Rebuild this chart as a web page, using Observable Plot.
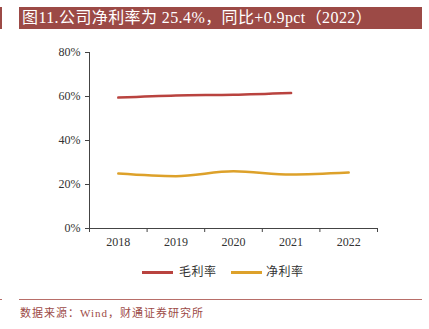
<!DOCTYPE html>
<html>
<head>
<meta charset="utf-8">
<script src="https://cdn.jsdelivr.net/npm/d3@7"></script>
<script src="https://cdn.jsdelivr.net/npm/@observablehq/plot@0.6"></script>
<style>
  html, body { margin: 0; padding: 0; background: #fff; }
  #root { position: relative; width: 429px; height: 329px; overflow: hidden; font-family: "Liberation Serif", "Noto Sans CJK SC", serif; }
  #leftmark { position: absolute; left: 0; top: 7px; width: 2px; height: 22px; background: #9C4A46; }
  #title { position: absolute; left: 19px; top: 7px; width: 403px; height: 22px; background: #9C4A46; color: #fff; font-size: 16px; line-height: 22px; padding-left: 3px; box-sizing: border-box; white-space: nowrap; letter-spacing: 0.4px; }
  #chart { position: absolute; left: 0; top: 40px; }
  #legend { position: absolute; left: 0; top: 263px; width: 429px; height: 18px; }
  .li { position: absolute; top: 0; font-size: 12px; line-height: 18px; color: #333; white-space: nowrap; letter-spacing: 0.5px; }
  .sw { position: absolute; top: 8px; height: 3px; width: 31px; }
  #botline { position: absolute; left: 19px; top: 299px; width: 403px; height: 1px; background: #B86E69; }
  #botmark { position: absolute; left: 0; top: 299px; width: 2px; height: 1px; background: #B86E69; }
  #source { position: absolute; left: 20px; top: 305px; font-size: 11px; line-height: 16px; color: #9C4A46; white-space: nowrap; letter-spacing: 1px; }
</style>
</head>
<body>
<div id="root">
  <div id="leftmark"></div>
  <div id="title">图11.公司净利率为 25.4%，同比+0.9pct（2022）</div>
  <div id="chart"></div>
  <div id="legend"></div>
  <div id="botmark"></div>
  <div id="botline"></div>
  <div id="source">数据来源：Wind，财通证券研究所</div>
</div>
<script>
const years = [2018, 2019, 2020, 2021, 2022];
const grossYears = [2018, 2019, 2020, 2021];
const grossMargin = [59.5, 60.5, 60.8, 61.6];
const netMargin = [25.0, 23.8, 26.0, 24.5, 25.4];
const yTicks = [0, 20, 40, 60, 80];
const seriesNames = ["毛利率", "净利率"];
const seriesColors = ["#B9433F", "#DDA12A"];

const grossData = grossYears.map((y, i) => ({year: y, value: grossMargin[i]}));
const netData = years.map((y, i) => ({year: y, value: netMargin[i]}));
const boundaries = years.map(y => y - 0.5).concat([years[years.length - 1] + 0.5]);

const font = "Liberation Serif, Noto Sans CJK SC, serif";

const chart = Plot.plot({
  width: 429,
  height: 215,
  marginLeft: 89,
  marginRight: 52,
  marginTop: 12,
  marginBottom: 27,
  style: {fontFamily: font, fontSize: "12px", color: "#333", background: "transparent"},
  x: {domain: [boundaries[0], boundaries[boundaries.length - 1]], axis: null},
  y: {domain: [0, 80], axis: null},
  marks: [
    Plot.axisX({ticks: years, tickSize: 0, tickPadding: 9, tickFormat: d => String(d), fontSize: 12, fill: "#333", label: null}),
    Plot.axisX({ticks: boundaries, tickSize: 4, tickFormat: () => "", stroke: "#444", label: null}),
    Plot.axisY({ticks: yTicks, tickSize: 4, tickPadding: 5, tickFormat: d => d + "%", fontSize: 12, fill: "#333", stroke: "#444", label: null}),
    Plot.frame({anchor: "left", stroke: "#444"}),
    Plot.frame({anchor: "bottom", stroke: "#444"}),
    Plot.line(grossData, {x: "year", y: "value", stroke: seriesColors[0], strokeWidth: 2.5, curve: "monotone-x"}),
    Plot.line(netData, {x: "year", y: "value", stroke: seriesColors[1], strokeWidth: 2.5, curve: "monotone-x"})
  ]
});
document.getElementById("chart").appendChild(chart);

const legend = document.getElementById("legend");
const legendPos = [{sw: 142, tx: 179}, {sw: 231, tx: 266}];
seriesNames.forEach((name, i) => {
  const sw = document.createElement("div");
  sw.className = "sw";
  sw.style.left = legendPos[i].sw + "px";
  sw.style.background = seriesColors[i];
  legend.appendChild(sw);
  const t = document.createElement("div");
  t.className = "li";
  t.style.left = legendPos[i].tx + "px";
  t.textContent = name;
  legend.appendChild(t);
});
</script>
</body>
</html>
